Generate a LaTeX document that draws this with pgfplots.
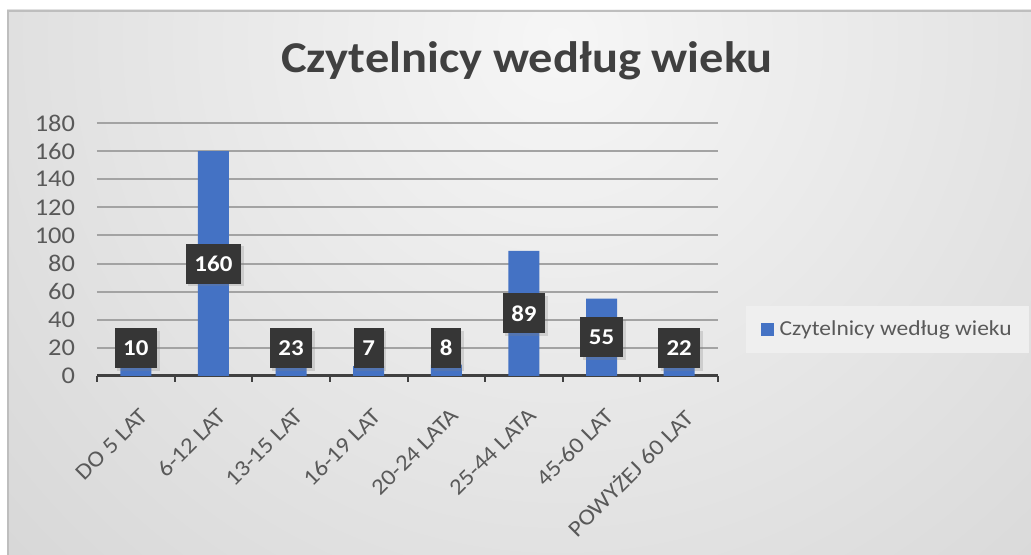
\documentclass[border=0pt]{standalone}
\usepackage{pgfplots}
\pgfplotsset{compat=1.18}
\usetikzlibrary{shadows}
\usepackage{fontspec}
\setmainfont{Carlito}[FakeStretch=1.1]
\definecolor{barblue}{HTML}{4472C4}
\definecolor{txtgray}{HTML}{595959}
\definecolor{titlegray}{HTML}{404040}
\definecolor{axisgray}{HTML}{404040}
\definecolor{gridgray}{HTML}{A3A3A3}
\definecolor{lblbox}{HTML}{363636}
\definecolor{bordergray}{HTML}{BEBEBE}
\definecolor{bginner}{HTML}{F6F6F6}
\definecolor{bgouter}{HTML}{C8C8C8}
\definecolor{legendfill}{HTML}{EFEFEF}
\begin{document}
\begin{tikzpicture}[x=0.75pt,y=0.75pt]
\useasboundingbox (0,0) rectangle (1031,555);
\begin{scope}
\clip (7,0) rectangle (1031,545);
\shade[inner color=bginner, outer color=bgouter] (560,515) ellipse (1150 and 1150);
\end{scope}
\draw[color=bordergray, line width=2pt] (8,0) -- (8,544) -- (1031,544);
\node[anchor=base, font=\bfseries\fontsize{33}{40}\selectfont, text=titlegray] at (527,482) {Czytelnicy według wieku};
\begin{axis}[
  at={(72.75pt,134.25pt)}, anchor=south west, scale only axis,
  width=465.75pt, height=189.75pt,
  xmin=-0.5, xmax=7.5, ymin=0, ymax=180,
  ytick={0,20,...,180},
  xtick={0,...,7},
  xticklabels={DO 5 LAT, 6-12 LAT, 13-15 LAT, 16-19 LAT, 20-24 LATA, 25-44 LATA, 45-60 LAT, POWYŻEJ 60 LAT},
  minor xtick={-0.5,0.5,...,7.5},
  major tick length=0pt, minor tick length=4.5pt, tick align=outside,
  minor tick style={axisgray, line width=1.5pt},
  axis x line*=bottom, axis y line*=left,
  x axis line style={axisgray, line width=2.25pt, -},
  y axis line style={draw=none},
  ytick style={draw=none},
  ymajorgrids, grid style={gridgray, line width=1.5pt},
  /pgf/number format/assume math mode=true,
  yticklabel style={font=\fontsize{18}{21}\selectfont, text=txtgray, anchor=east, xshift=-13pt},
  xticklabel style={font=\fontsize{17}{20}\selectfont, text=txtgray, inner sep=0pt, xshift=2.25pt, yshift=-23pt, rotate=45, anchor=north east},
  legend style={at={(1.045,0.184)}, anchor=west, fill=legendfill, draw=none,
    font=\fontsize{16}{19}\selectfont, text=txtgray, inner xsep=11pt, inner ysep=9pt},
  legend image code/.code={\fill[barblue] (0pt,-4.9pt) rectangle (9.75pt,4.9pt); \path (12pt,0pt);},
]
\addplot[ybar, bar width=23.25pt, fill=barblue, draw=none]
  coordinates {(0,10) (1,160) (2,23) (3,7) (4,8) (5,89) (6,55) (7,22)};
\addlegendentry{Czytelnicy według wieku}
\addplot[draw=none, mark=none, forget plot, nodes near coords, point meta=explicit,
  nodes near coords align=center,
  every node near coord/.append style={fill=lblbox, text=white,
    font=\bfseries\fontsize{17}{20}\selectfont, minimum height=30pt, inner xsep=6.5pt,
    drop shadow={opacity=0.25, shadow xshift=2pt, shadow yshift=-2pt}}]
  coordinates {(0,20) [10] (1,80) [160] (2,20) [23] (3,20) [7] (4,20) [8] (5,44.5) [89] (6,27.5) [55] (7,20) [22]};
\end{axis}
\end{tikzpicture}
\end{document}
